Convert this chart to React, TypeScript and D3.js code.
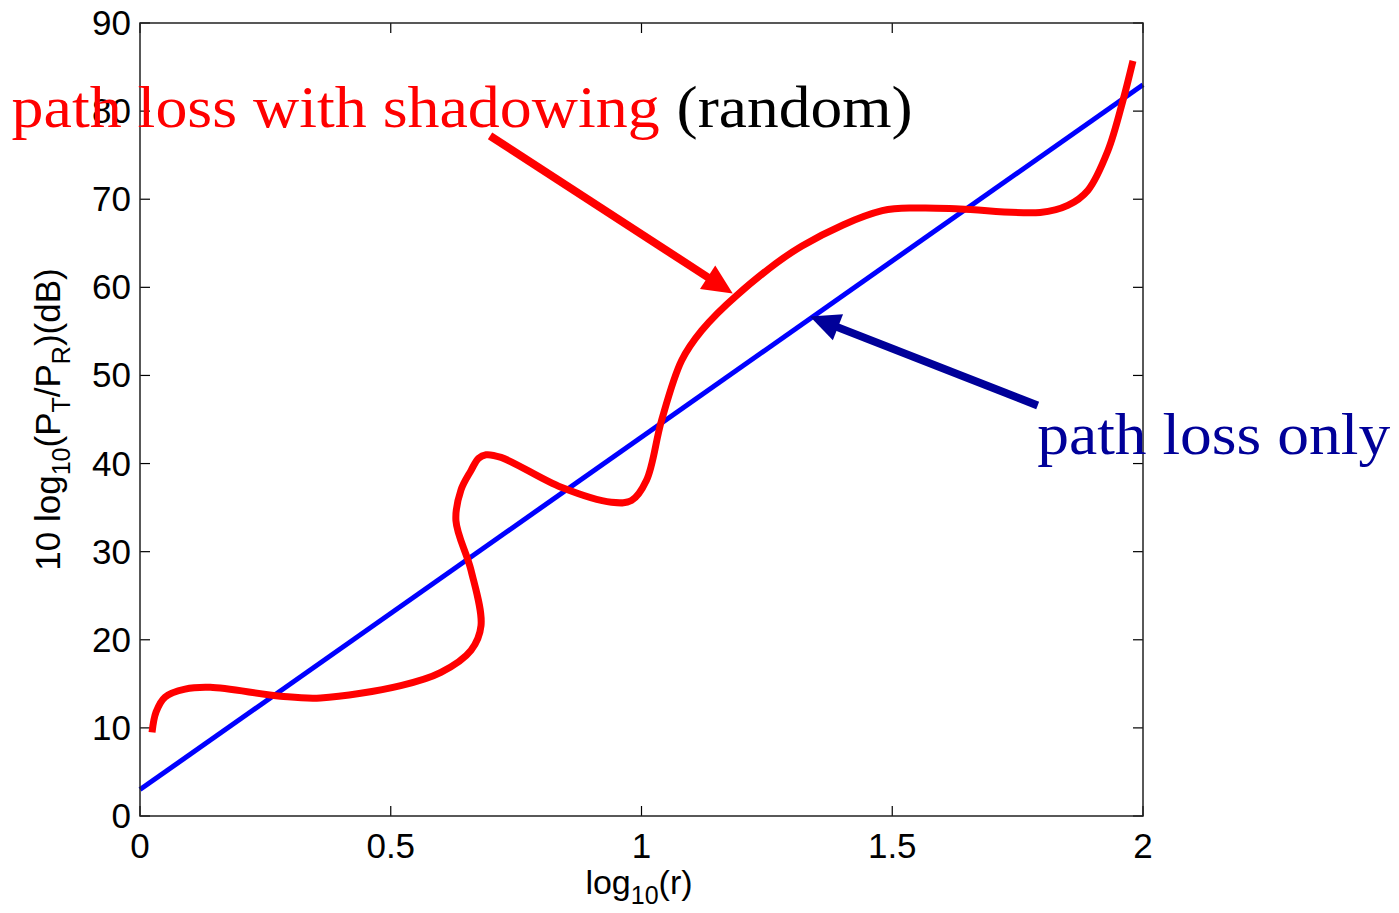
import React from 'react';
import * as d3 from 'd3';

// axis ticks
const xTicks = [0, 0.5, 1, 1.5, 2];
const yTicks = [0, 10, 20, 30, 40, 50, 60, 70, 80, 90];

// path loss only: straight line in log-distance
const pathLossX = [0, 2];
const pathLossY = [3, 83];

// path loss with shadowing
const shadowX = [0.024, 0.032, 0.05, 0.09, 0.14, 0.28, 0.36, 0.52, 0.6, 0.66, 0.68, 0.66, 0.63, 0.64, 0.66, 0.675, 0.69, 0.72, 0.84, 0.94, 0.98, 1.01, 1.04, 1.08, 1.12, 1.19, 1.32, 1.48, 1.555, 1.635, 1.795, 1.85, 1.89, 1.93, 1.96, 1.98];
const shadowY = [9.5, 11.8, 13.5, 14.4, 14.6, 13.6, 13.4, 14.8, 16.3, 18.8, 21.6, 27.9, 33.5, 37, 39.2, 40.6, 41, 40.7, 37.3, 35.6, 35.8, 38.1, 44.9, 51.7, 55.1, 59.1, 64.7, 68.7, 69, 68.9, 68.5, 69.3, 71, 75.5, 81.2, 85.7];

// annotation arrows in data units: [tailX, tailY, tipX, tipY]
const redArrow = [0.698, 77.2, 1.182, 59.3];
const blueArrow = [1.79, 46.6, 1.336, 56.7];

const W = 1399;
const H = 913;
const M = { left: 140, right: 256, top: 23, bottom: 97 };

const App = () => {
  const x = d3.scaleLinear().domain([0, 2]).range([M.left, W - M.right]);
  const y = d3.scaleLinear().domain([0, 90]).range([H - M.bottom, M.top]);

  const line = d3.line<[number, number]>()
    .x(d => x(d[0]))
    .y(d => y(d[1]));
  const smooth = d3.line<[number, number]>()
    .x(d => x(d[0]))
    .y(d => y(d[1]))
    .curve(d3.curveCatmullRom.alpha(0.5));

  const bluePts = pathLossX.map((v, i) => [v, pathLossY[i]] as [number, number]);
  const redPts = shadowX.map((v, i) => [v, shadowY[i]] as [number, number]);

  const arrow = (a: number[], color: string, width: number, headLen: number, headHalf: number) => {
    const x1 = x(a[0]), y1 = y(a[1]), x2 = x(a[2]), y2 = y(a[3]);
    const ang = Math.atan2(y2 - y1, x2 - x1);
    const bx = x2 - headLen * Math.cos(ang), by = y2 - headLen * Math.sin(ang);
    const px = -Math.sin(ang) * headHalf, py = Math.cos(ang) * headHalf;
    return (
      <g>
        <line x1={x1} y1={y1} x2={bx + 2 * Math.cos(ang)} y2={by + 2 * Math.sin(ang)} stroke={color} strokeWidth={width} />
        <polygon points={`${x2},${y2} ${bx + px},${by + py} ${bx - px},${by - py}`} fill={color} />
      </g>
    );
  };

  const x0 = M.left, x1 = W - M.right, y0 = H - M.bottom, y1 = M.top;
  const tickLen = 10;
  const axisFont = 'Arial, "Liberation Sans", Helvetica, sans-serif';
  const serif = '"Times New Roman", "Liberation Serif", serif';

  return (
    <svg width={W} height={H} style={{ position: 'absolute', left: 0, top: 0, background: '#fff' }}>
      {/* ticks on all four sides, pointing inward */}
      <g stroke="#000" strokeWidth={1.2}>
        {xTicks.map(t => (
          <g key={'xt' + t}>
            <line x1={x(t)} x2={x(t)} y1={y0} y2={y0 - tickLen} />
            <line x1={x(t)} x2={x(t)} y1={y1} y2={y1 + tickLen} />
          </g>
        ))}
        {yTicks.map(t => (
          <g key={'yt' + t}>
            <line x1={x0} x2={x0 + tickLen} y1={y(t)} y2={y(t)} />
            <line x1={x1} x2={x1 - tickLen} y1={y(t)} y2={y(t)} />
          </g>
        ))}
      </g>

      {/* data */}
      <path d={line(bluePts) || ''} fill="none" stroke="#0000ff" strokeWidth={5} />
      <path d={smooth(redPts) || ''} fill="none" stroke="#ff0000" strokeWidth={7} strokeLinejoin="round" />

      {/* box */}
      <rect x={x0} y={y1} width={x1 - x0} height={y0 - y1} fill="none" stroke="#222" strokeWidth={1.5} />

      {/* tick labels */}
      <g fontFamily={axisFont} fontSize={35} fill="#000">
        {xTicks.map(t => (
          <text key={'xl' + t} x={x(t)} y={y0 + 42} textAnchor="middle">{String(t)}</text>
        ))}
        {yTicks.map(t => (
          <text key={'yl' + t} x={x0 - 9} y={y(t) + 12} textAnchor="end">{String(t)}</text>
        ))}
      </g>

      {/* axis labels */}
      <text x={x(0.995)} y={894} textAnchor="middle" fontFamily={axisFont} fontSize={34}>
        log<tspan fontSize={25} dy={10}>10</tspan><tspan dy={-10}>(r)</tspan>
      </text>
      <text transform={`translate(60, ${(y0 + y1) / 2}) rotate(-90)`} textAnchor="middle" fontFamily={axisFont} fontSize={35}>
        10 log<tspan fontSize={25} dy={10}>10</tspan><tspan dy={-10}>(P</tspan><tspan fontSize={25} dy={10}>T</tspan><tspan dy={-10}>/P</tspan><tspan fontSize={25} dy={10}>R</tspan><tspan dy={-10}>)(dB)</tspan>
      </text>

      {/* annotations */}
      {arrow(redArrow, '#ff0000', 8, 30, 14)}
      {arrow(blueArrow, '#000099', 8, 30, 14)}
      <text x={x(-0.256)} y={y(78.2)} fontFamily={serif} fontSize={60} fill="#ff0000"
        textLength={648} lengthAdjust="spacingAndGlyphs">path loss with shadowing</text>
      <text x={x(1.07)} y={y(78.2)} fontFamily={serif} fontSize={60} fill="#000"
        textLength={236} lengthAdjust="spacingAndGlyphs">(random)</text>
      <text x={x(1.789)} y={y(41.1)} fontFamily={serif} fontSize={60} fill="#000099"
        textLength={353} lengthAdjust="spacingAndGlyphs">path loss only</text>
    </svg>
  );
};

export default App;
